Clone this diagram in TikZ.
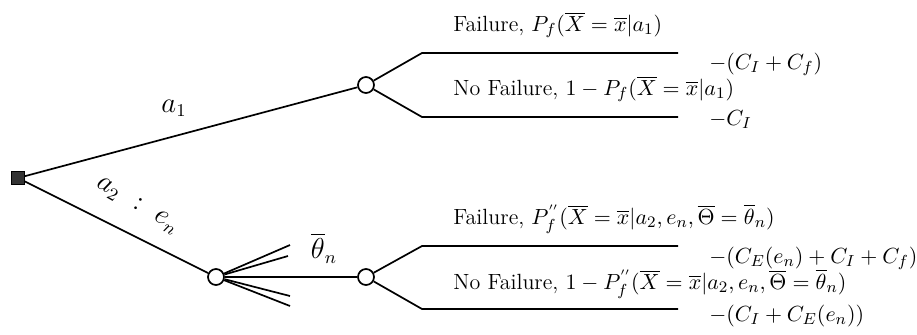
\documentclass[tikz,border=0pt]{standalone}
\usepackage{amsmath}
\begin{document}
\begin{tikzpicture}[x=0.5pt,y=-0.5pt,
  every node/.style={font=\fontsize{11}{13}\selectfont},
  br/.style={line width=0.85pt, line join=round},
  chance/.style={circle, draw, fill=white, line width=0.85pt, minimum size=8pt, inner sep=0pt},
  decision/.style={rectangle, draw, fill=black!80, line width=0.6pt, minimum size=6.2pt, inner sep=0pt},
  lbl/.style={anchor=base west, inner sep=0pt},
  blbl/.style={font=\fontsize{13.5}{15}\selectfont, inner sep=1pt}]
\useasboundingbox (0,0) rectangle (917,334);
% nodes
\node[decision] (sq) at (18,178) {};
\node[chance] (c1) at (366,85) {};
\node[chance] (c2) at (216,277) {};
\node[chance] (c3) at (366,277) {};
% branch coordinates
\coordinate (u1) at (422,53);  \coordinate (u1e) at (678,53);
\coordinate (u2) at (422,117); \coordinate (u2e) at (678,117);
\coordinate (l1) at (422,246); \coordinate (l1e) at (678,246);
\coordinate (l2) at (422,309); \coordinate (l2e) at (678,309);
\coordinate (f1) at (290,245);
\coordinate (f2) at (288,256);
\coordinate (f3) at (290,296);
\coordinate (f4) at (290,306);
% connectors
\draw[br] (sq) -- (c1);
\draw[br] (sq) -- (c2);
\draw[br] (c2) -- (c3);
\draw[br] (c2) -- (f1);
\draw[br] (c2) -- (f2);
\draw[br] (c2) -- (f3);
\draw[br] (c2) -- (f4);
\draw[br] (c1) -- (u1) -- (u1e);
\draw[br] (c1) -- (u2) -- (u2e);
\draw[br] (c3) -- (l1) -- (l1e);
\draw[br] (c3) -- (l2) -- (l2e);
% branch labels
\node[blbl] (la1) at (174,108) {$a_1$};
\node[blbl, rotate=-30] (la2) at (137,206) {$a_2\ :\ e_n$};
\node[blbl] (lth) at (324,248) {$\overline{\theta}_n$};
% outcome labels
\node[lbl] (t1) at (453,31) {Failure, $P_f(\overline{X}=\overline{x}|a_1)$};
\node[lbl] (v1) at (709,69) {$-(C_I+C_f)$};
\node[lbl] (t2) at (453,95) {No Failure, $1-P_f(\overline{X}=\overline{x}|a_1)$};
\node[lbl] (v2) at (709,125) {$-C_I$};
\node[lbl] (t3) at (453,224) {Failure, $P_f^{''}(\overline{X}=\overline{x}|a_2,e_n,\overline{\Theta}=\overline{\theta}_n)$};
\node[lbl] (v3) at (709,263) {$-(C_E(e_n)+C_I+C_f)$};
\node[lbl] (t4) at (453,289) {No Failure, $1-P_f^{''}(\overline{X}=\overline{x}|a_2,e_n,\overline{\Theta}=\overline{\theta}_n)$};
\node[lbl] (v4) at (709,321) {$-(C_I+C_E(e_n))$};
\end{tikzpicture}
\end{document}
